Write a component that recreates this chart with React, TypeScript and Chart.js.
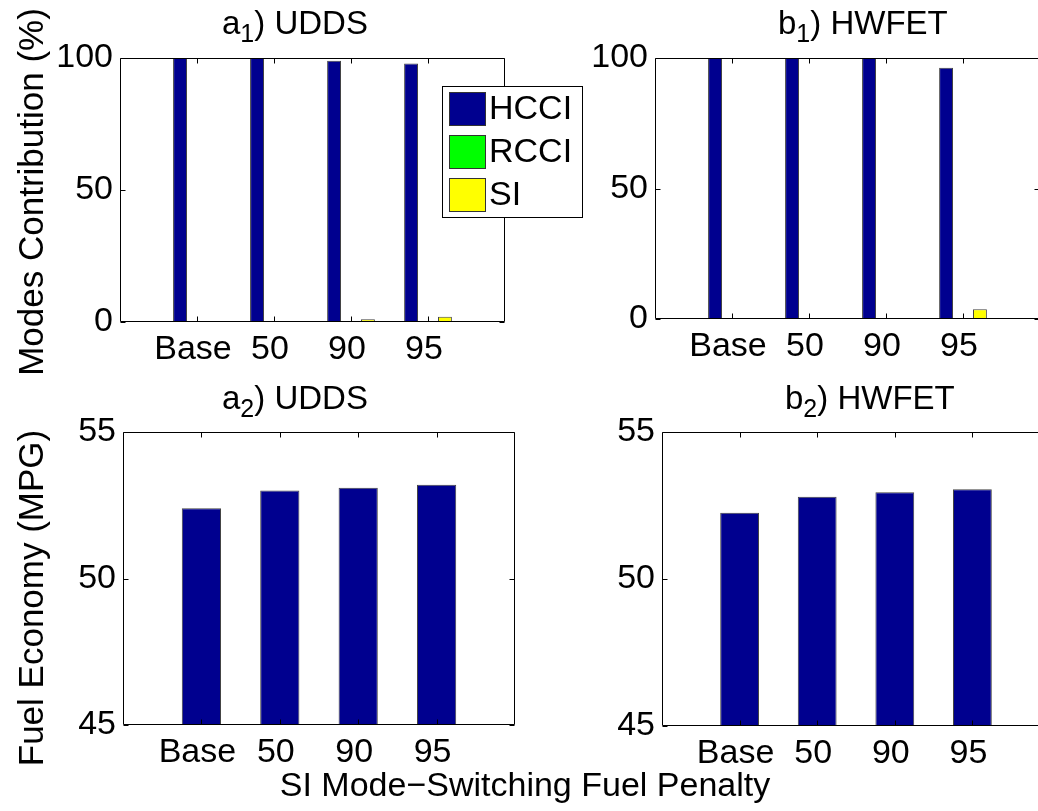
import React, { useEffect, useRef } from 'react';
import { Chart, registerables } from 'chart.js';

Chart.register(...registerables);

// ---------- data ----------
const categories = ['', 'Base', '50', '90', '95', ''];
const modeNames = ['HCCI', 'RCCI', 'SI'];
const modeColors = ['#00008F', '#00FF00', '#FFFF00'];

const uddsHCCI = [null, 100, 100, 99.0, 97.9, null];
const uddsRCCI = [null, 0, 0, 0, 0, null];
const uddsSI = [null, 0, 0, 1.0, 2.0, null];

const hwfetHCCI = [null, 100, 100, 100, 96.3, null];
const hwfetRCCI = [null, 0, 0, 0, 0, null];
const hwfetSI = [null, 0, 0, 0, 3.7, null];

const uddsMPG = [null, 52.4, 53.0, 53.1, 53.2, null];
const hwfetMPG = [null, 52.25, 52.8, 52.95, 53.05, null];

const modeTicks = [0, 50, 100];
const mpgTicks = [45, 50, 55];

// ---------- layout ----------
const CW = 1100;
const CH = 811;
const YW = 80;
const XH = 60;
const FONT = '"Liberation Sans", Arial, Helvetica, sans-serif';

type Area = { L: number; T: number; R: number; B: number };

const matlabAxes = {
  id: 'matlabAxes',
  afterDatasetsDraw(chart: any) {
    const { ctx, chartArea: a, scales } = chart;
    const xs = scales.x;
    const ys = scales.y;
    const tl = 5;
    ctx.save();
    ctx.strokeStyle = '#000';
    ctx.lineWidth = 1;
    const l = Math.round(a.left) + 0.5;
    const r = Math.round(a.right) - 0.5;
    const t = Math.round(a.top) + 0.5;
    const b = Math.round(a.bottom) - 0.5;
    ctx.beginPath();
    ctx.rect(l, t, r - l, b - t);
    xs.ticks.forEach((_t: any, i: number) => {
      if (!categories[i]) return;
      const px = Math.round(xs.getPixelForTick(i)) + 0.5;
      ctx.moveTo(px, b);
      ctx.lineTo(px, b - tl);
      ctx.moveTo(px, t);
      ctx.lineTo(px, t + tl);
    });
    ys.ticks.forEach((tk: any) => {
      const py = Math.round(ys.getPixelForValue(tk.value)) + 0.5;
      ctx.moveTo(l, py);
      ctx.lineTo(l + tl, py);
      ctx.moveTo(r, py);
      ctx.lineTo(r - tl, py);
    });
    ctx.stroke();
    ctx.restore();
  },
};

const boxLegend = {
  id: 'boxLegend',
  afterDraw(chart: any, _args: any, opts: any) {
    if (!opts || !opts.display) return;
    const { ctx } = chart;
    const { x, y, w, h, sx, sw, sh, top0, pitch, tx, size } = opts;
    ctx.save();
    ctx.fillStyle = '#fff';
    ctx.fillRect(x, y, w, h);
    ctx.strokeStyle = '#000';
    ctx.lineWidth = 1;
    ctx.strokeRect(x + 0.5, y + 0.5, w - 1, h - 1);
    ctx.font = `${size}px ${FONT}`;
    ctx.textBaseline = 'middle';
    ctx.textAlign = 'left';
    chart.data.datasets.forEach((ds: any, i: number) => {
      const sy = top0 + i * pitch;
      ctx.fillStyle = ds.backgroundColor;
      ctx.fillRect(sx, sy, sw, sh);
      ctx.strokeStyle = '#333';
      ctx.strokeRect(sx + 0.5, sy + 0.5, sw - 1, sh - 1);
      ctx.fillStyle = '#000';
      ctx.fillText(ds.label, tx, sy + sh / 2 + 1);
    });
    ctx.restore();
  },
};

function buildConfig(datasets: any[], area: Area, yMin: number, yMax: number, ticks: number[], legend: boolean, catPct: number, barPct: number) {
  const font = { family: FONT, size: 34 };
  return {
    type: 'bar',
    data: {
      labels: categories,
      datasets: datasets.map((d) => ({
        ...d,
        borderColor: '#444',
        borderWidth: 1,
        categoryPercentage: catPct,
        barPercentage: barPct,
        base: yMin,
      })),
    },
    options: {
      responsive: false,
      animation: false,
      devicePixelRatio: 1,
      events: [],
      layout: {
        padding: {
          left: area.L - YW,
          top: area.T,
          right: CW - area.R,
          bottom: CH - area.B - XH,
        },
      },
      plugins: {
        legend: { display: false },
        title: { display: false },
        tooltip: { enabled: false },
        boxLegend: legend
          ? { display: true, x: 442, y: 86, w: 141, h: 132, sx: 449, sw: 37, sh: 34, top0: 92, pitch: 43, tx: 489, size: 34 }
          : { display: false },
      },
      scales: {
        x: {
          type: 'category',
          offset: false,
          grid: { display: false, drawTicks: false },
          border: { display: false },
          ticks: { autoSkip: false, maxRotation: 0, minRotation: 0, padding: 7, labelOffset: -4, color: '#000', font },
          afterFit: (s: any) => {
            s.height = XH;
          },
        },
        y: {
          type: 'linear',
          min: yMin,
          max: yMax,
          grid: { display: false, drawTicks: false },
          border: { display: false },
          ticks: { padding: 7, color: '#000', font },
          afterBuildTicks: (s: any) => {
            s.ticks = ticks.map((v) => ({ value: v }));
          },
          afterFit: (s: any) => {
            s.width = YW;
          },
        },
      },
    },
    plugins: [matlabAxes, boxLegend],
  };
}

function modeSets(h: (number | null)[], r: (number | null)[], s: (number | null)[]) {
  return [h, r, s].map((data, i) => ({
    label: modeNames[i],
    data,
    backgroundColor: modeColors[i],
  }));
}

function mpgSets(data: (number | null)[]) {
  return [{ label: 'MPG', data, backgroundColor: modeColors[0] }];
}

function Panel({ build }: { build: () => any }) {
  const ref = useRef<HTMLCanvasElement>(null);
  useEffect(() => {
    const chart = new Chart(ref.current as HTMLCanvasElement, build() as any);
    return () => chart.destroy();
  }, []);
  return <canvas ref={ref} width={CW} height={CH} style={{ position: 'absolute', left: 0, top: 0, width: CW, height: CH }} />;
}

function Title({ left, top, letter, sub, text }: { left: number; top: number; letter: string; sub: string; text: string }) {
  return (
    <div style={{ position: 'absolute', left, top, font: `33px ${FONT}`, lineHeight: '33px', whiteSpace: 'nowrap', color: '#000' }}>
      {letter}
      <span style={{ fontSize: 25, position: 'relative', top: 8 }}>{sub}</span>
      {text}
    </div>
  );
}

function VLabel({ cx, cy, text }: { cx: number; cy: number; text: string }) {
  return (
    <div
      style={{
        position: 'absolute',
        left: cx,
        top: cy,
        font: `35px ${FONT}`,
        lineHeight: '35px',
        whiteSpace: 'nowrap',
        color: '#000',
        transform: 'translate(-50%, -50%) rotate(-90deg)',
      }}
    >
      {text}
    </div>
  );
}

export default function App() {
  return (
    <div style={{ position: 'absolute', left: 0, top: 0, width: 1038, height: 811, overflow: 'hidden', background: '#fff' }}>
      <Panel build={() => buildConfig(modeSets(uddsHCCI, uddsRCCI, uddsSI), { L: 120, T: 58, R: 505, B: 322 }, 0, 100, modeTicks, true, 0.66, 0.82)} />
      <Panel build={() => buildConfig(modeSets(hwfetHCCI, hwfetRCCI, hwfetSI), { L: 655, T: 58, R: 1040, B: 319 }, 0, 100, modeTicks, false, 0.66, 0.82)} />
      <Panel build={() => buildConfig(mpgSets(uddsMPG), { L: 123, T: 432, R: 515, B: 725 }, 45, 55, mpgTicks, false, 0.5, 1)} />
      <Panel build={() => buildConfig(mpgSets(hwfetMPG), { L: 662, T: 432, R: 1050, B: 726 }, 45, 55, mpgTicks, false, 0.5, 1)} />

      <Title left={222} top={6} letter="a" sub="1" text=") UDDS" />
      <Title left={778} top={6} letter="b" sub="1" text=") HWFET" />
      <Title left={222} top={381} letter="a" sub="2" text=") UDDS" />
      <Title left={785} top={381} letter="b" sub="2" text=") HWFET" />

      <VLabel cx={30} cy={192} text="Modes Contribution (%)" />
      <VLabel cx={30} cy={598} text="Fuel Economy (MPG)" />

      <div style={{ position: 'absolute', left: 525, top: 767, transform: 'translateX(-50%)', font: `34px ${FONT}`, lineHeight: '34px', whiteSpace: 'nowrap', color: '#000' }}>
        SI Mode−Switching Fuel Penalty
      </div>
    </div>
  );
}
